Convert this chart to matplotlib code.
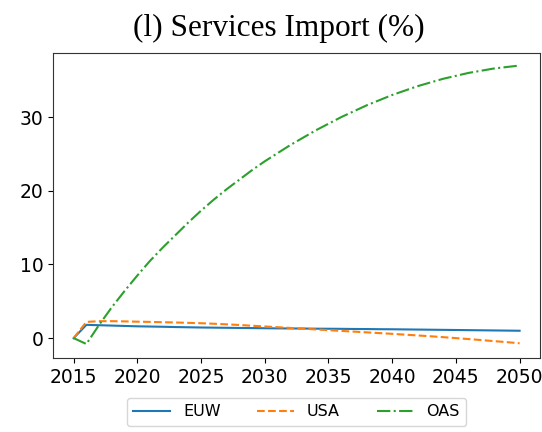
import matplotlib
matplotlib.use("Agg")
import matplotlib.pyplot as plt

years = list(range(2015, 2051))
euw = [0.0, 1.8, 1.75, 1.7, 1.65, 1.6, 1.57, 1.54, 1.5, 1.47, 1.44, 1.42, 1.4, 1.38, 1.36, 1.34,
       1.32, 1.31, 1.3, 1.28, 1.27, 1.26, 1.24, 1.23, 1.21, 1.2, 1.18, 1.16, 1.14, 1.12, 1.1,
       1.08, 1.06, 1.04, 1.02, 1.0]
usa = [0.0, 2.2, 2.3, 2.3, 2.27, 2.23, 2.2, 2.16, 2.12, 2.07, 2.02, 1.95, 1.87, 1.78, 1.68, 1.58,
       1.48, 1.38, 1.28, 1.18, 1.08, 0.98, 0.88, 0.78, 0.68, 0.58, 0.47, 0.36, 0.25, 0.13, 0.0,
       -0.13, -0.27, -0.41, -0.55, -0.7]
oas = [0.0, -0.8, 1.8, 4.2, 6.4, 8.5, 10.5, 12.3, 14.0, 15.7, 17.3, 18.8, 20.2, 21.5, 22.8, 24.0,
       25.1, 26.2, 27.2, 28.2, 29.1, 30.0, 30.8, 31.6, 32.3, 33.0, 33.6, 34.2, 34.7, 35.2, 35.6,
       36.0, 36.3, 36.6, 36.8, 37.0]
series_names = ["EUW", "USA", "OAS"]

fig = plt.figure(figsize=(5.42, 4.32), dpi=100)
ax = fig.add_axes([53/542, 1-358/432, (540-53)/542, (358-53)/432])
ax.plot(years, euw, color="#1f77b4", linestyle="-", label=series_names[0])
ax.plot(years, usa, color="#ff7f0e", linestyle="--", label=series_names[1])
ax.plot(years, oas, color="#2ca02c", linestyle="-.", label=series_names[2])
ax.set_xlim(2013.38, 2051.6)
ax.set_ylim(-2.7, 38.7)
ax.set_xticks(range(2015, 2051, 5))
ax.set_yticks([0, 10, 20, 30])
ax.tick_params(labelsize=13.5)
for s in ax.spines.values():
    s.set_color("#333333")
ax.set_title("(l) Services Import (%)", family="Liberation Serif", fontsize=22.5, pad=12.5,
             x=0.463)
ax.legend(loc="upper center", bbox_to_anchor=(0.5, -0.105), ncol=3, fontsize=11.5,
          handlelength=2.3, columnspacing=2.3, frameon=True)
fig.savefig("out.png", dpi=100)
